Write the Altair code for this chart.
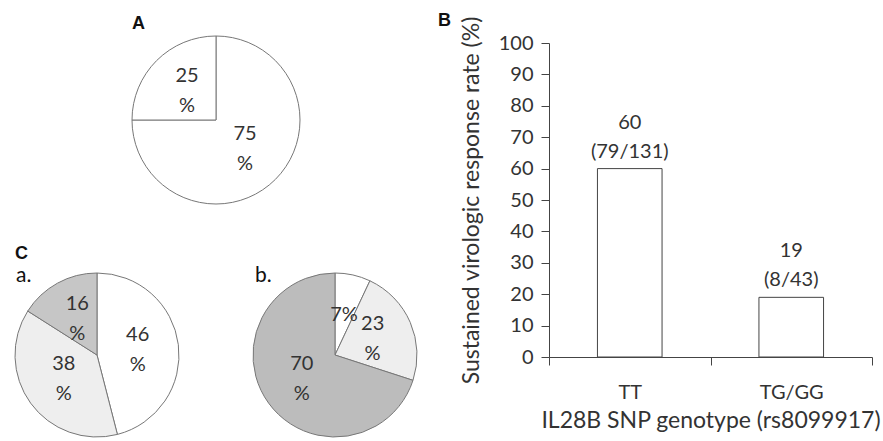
import altair as alt
import pandas as pd

# ---------------- data ----------------
pieA_values = [75, 25]
pieA_labels = ["75\n%", "25\n%"]
pieA_keys = ["A1", "A2"]

pieCa_values = [46, 38, 16]
pieCa_labels = ["46\n%", "38\n%", "16\n%"]
pieCa_keys = ["Ca1", "Ca2", "Ca3"]

pieCb_values = [7, 23, 70]
pieCb_labels = ["7%", "23\n%", "70\n%"]
pieCb_keys = ["Cb1", "Cb2", "Cb3"]

genotypes = ["TT", "TG/GG"]
svr_rates = [60, 19]
svr_counts = ["(79/131)", "(8/43)"]
y_ticks = [0, 10, 20, 30, 40, 50, 60, 70, 80, 90, 100]

# ---------------- style ----------------
FONT = "Lato"
BOLD = "Liberation Sans"
TXT = "#333333"
slice_fill = {
    "A1": "#ffffff", "A2": "#ffffff",
    "Ca1": "#ffffff", "Ca2": "#eeeeee", "Ca3": "#c6c6c6",
    "Cb1": "#ffffff", "Cb2": "#eeeeee", "Cb3": "#bcbcbc",
}
color_scale = alt.Scale(domain=list(slice_fill.keys()), range=list(slice_fill.values()))

TOP = 12      # page padding on top
ORIG = 43     # y of the plot origin of both panels (set by bar panel)


def pie(values, labels, keys, cx, cy, r):
    df = pd.DataFrame({"value": values, "label": labels, "slice": keys,
                       "idx": list(range(len(values)))})
    base = alt.Chart(df).encode(
        theta=alt.Theta("value:Q", stack=True),
        order=alt.Order("idx:Q"),
        x=alt.value(cx),
        y=alt.value(cy - ORIG),
    )
    arc = base.mark_arc(radius=r, stroke="#777777", strokeWidth=1).encode(
        color=alt.Color("slice:N", scale=color_scale, legend=None)
    )
    txt = base.mark_text(
        radius=41, font=FONT, fontSize=20, lineBreak="\n", lineHeight=30,
        color=TXT, align="center", baseline="middle",
        dy=alt.expr("indexof(datum.label, '\\n') >= 0 ? -15 : 0"),
    ).encode(text="label:N")
    return [arc, txt]


def letter(t, x, y, font, size, weight="normal"):
    return alt.Chart(alt.Data(values=[{"t": t}])).mark_text(
        font=font, fontSize=size, fontWeight=weight, color="#111111",
        align="left", baseline="alphabetic"
    ).encode(text="t:N", x=alt.value(x), y=alt.value(y - ORIG))


left_layers = []
left_layers += pie(pieA_values, pieA_labels, pieA_keys, 216, 120, 84)
left_layers += pie(pieCa_values, pieCa_labels, pieCa_keys, 97, 355, 82)
left_layers += pie(pieCb_values, pieCb_labels, pieCb_keys, 335, 355, 82)
left_layers += [
    letter("A", 132, 29, BOLD, 18, "bold"),
    letter("C", 15, 259, BOLD, 18, "bold"),
    letter("a.", 16, 282, FONT, 21),
    letter("b.", 255, 282, FONT, 21),
]
left = alt.layer(*left_layers).properties(width=432, height=441 - ORIG)

# ---------------- bar chart B ----------------
bar_df = pd.DataFrame({"genotype": genotypes, "rate": svr_rates, "count": svr_counts})

xenc = alt.X(
    "genotype:N", sort=genotypes,
    scale=alt.Scale(paddingInner=0, paddingOuter=0),
    axis=alt.Axis(title="IL28B SNP genotype (rs8099917)", labelAngle=0,
                  tickBand="extent", tickSize=8, labelPadding=17,
                  titlePadding=7, labelFontSize=20),
)
yenc = alt.Y(
    "rate:Q", scale=alt.Scale(domain=[0, 100]),
    axis=alt.Axis(title="Sustained virologic response rate (%)", values=y_ticks,
                  labelOverlap=False,
                  grid=False, tickSize=8, labelPadding=8, titlePadding=15,
                  labelFontSize=20),
)

bars = alt.Chart(bar_df).mark_bar(
    width=alt.RelativeBandSize(0.4), fill="white", stroke="#444444", strokeWidth=1
).encode(x=xenc, y=yenc)

count_txt = alt.Chart(bar_df).mark_text(
    dy=-11, baseline="alphabetic", font=FONT, fontSize=20, color=TXT
).encode(x=xenc, y=yenc, text="count:N")

rate_txt = alt.Chart(bar_df).mark_text(
    dy=-40, baseline="alphabetic", font=FONT, fontSize=20, color=TXT
).encode(x=xenc, y=yenc, text="rate:Q")

b_letter = alt.Chart(alt.Data(values=[{"t": "B"}])).mark_text(
    font=BOLD, fontSize=18, fontWeight="bold", color="#111111",
    align="left", baseline="top"
).encode(text="t:N", x=alt.value(-111), y=alt.value(TOP - ORIG))

right = alt.layer(bars, count_txt, rate_txt, b_letter).properties(width=323, height=314)

chart = alt.hconcat(left, right, spacing=6).properties(
    padding={"left": 0, "top": TOP, "right": 0, "bottom": 0},
    background="white",
).configure_view(stroke=None).configure_axis(
    labelFont=FONT, titleFont=FONT, labelColor=TXT, titleColor=TXT,
    titleFontSize=23, titleFontWeight="normal", domainColor="#444444",
    tickColor="#444444", domainWidth=1, tickWidth=1,
)

chart.save("out.html", embed_options={"renderer": "svg", "actions": False})
